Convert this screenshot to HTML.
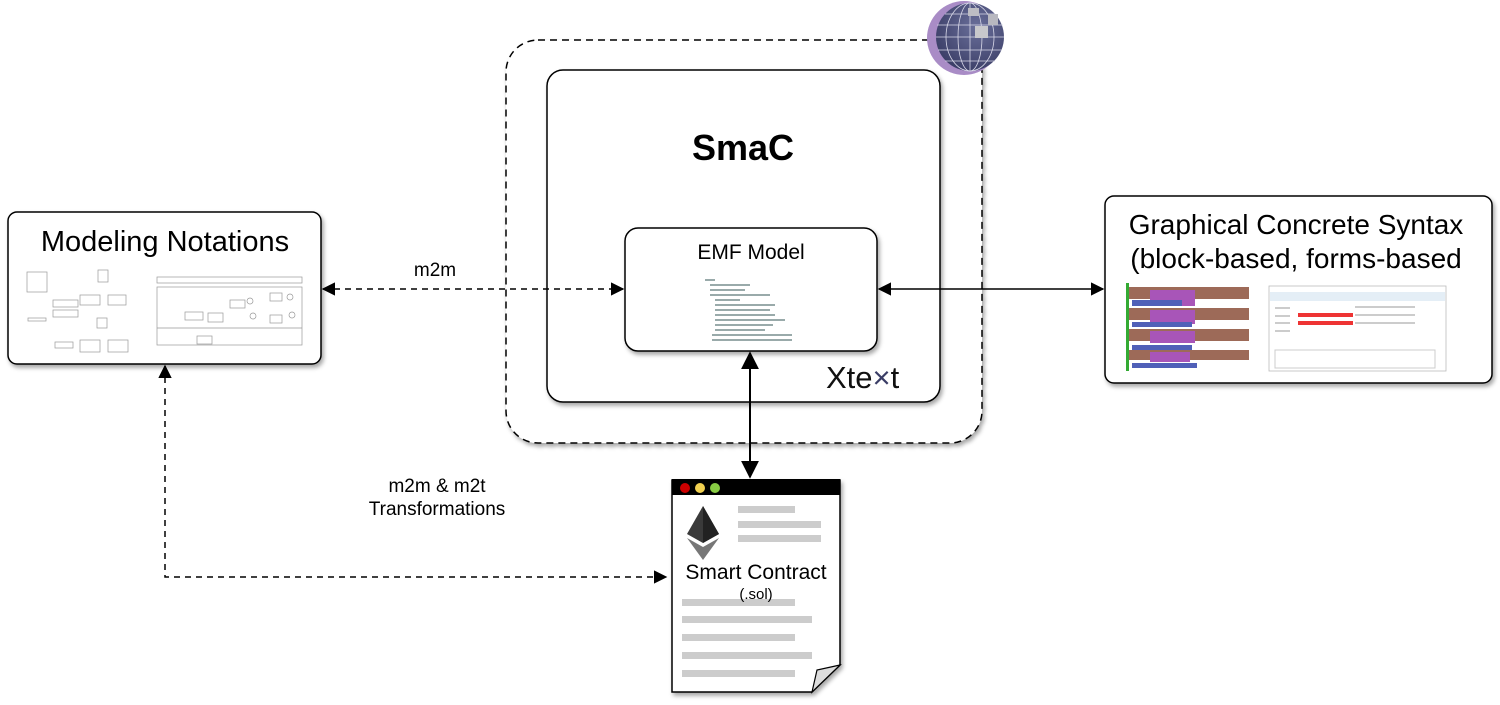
<!DOCTYPE html>
<html><head><meta charset="utf-8"><style>
html,body{margin:0;padding:0;background:#fff;}
svg{display:block;font-family:"Liberation Sans",sans-serif;}
</style></head><body>
<svg width="1500" height="705" viewBox="0 0 1500 705" xmlns="http://www.w3.org/2000/svg">
<defs>
<filter id="sh" x="-5%" y="-5%" width="115%" height="115%"><feDropShadow dx="2" dy="3" stdDeviation="2" flood-color="#000" flood-opacity="0.35"/></filter>
<marker id="ah" viewBox="0 0 10 10" refX="9" refY="5" markerWidth="9" markerHeight="9" orient="auto-start-reverse"><path d="M0,0 L10,5 L0,10 z" fill="#000"/></marker>
<radialGradient id="gl" cx="0.6" cy="0.35" r="0.7"><stop offset="0" stop-color="#6a6f9a"/><stop offset="1" stop-color="#3a3d66"/></radialGradient>
</defs>

<rect x="506" y="40" width="476" height="403" rx="32" fill="#fff" stroke="#000" stroke-width="1.5" stroke-dasharray="7,5" filter="url(#sh)"/>
<circle cx="964" cy="38" r="37" fill="#a98cc6"/>
<circle cx="970" cy="37" r="34" fill="url(#gl)"/>
<g stroke="#d8d8e8" stroke-width="0.8" fill="none">
<ellipse cx="970" cy="37" rx="12" ry="34"/><ellipse cx="970" cy="37" rx="24" ry="34"/><line x1="970" y1="3" x2="970" y2="71"/>
<line x1="937" y1="25" x2="1003" y2="25"/><line x1="936" y1="37" x2="1004" y2="37"/><line x1="938" y1="50" x2="1002" y2="50"/><line x1="945" y1="14" x2="995" y2="14"/><line x1="945" y1="61" x2="995" y2="61"/>
</g>
<rect x="975" y="26" width="13" height="12" fill="#c8c8cc"/><rect x="968" y="8" width="11" height="8" fill="#bdbdc4"/><rect x="988" y="14" width="10" height="11" fill="#b8b8c0"/>

<rect x="547" y="70" width="393" height="332" rx="16" fill="#fff" stroke="#000" stroke-width="1.5" filter="url(#sh)"/>
<text x="743" y="160" font-size="36" font-weight="bold" text-anchor="middle">SmaC</text>
<text x="826" y="388" font-size="31" fill="#111">Xte<tspan fill="#3a3d66">×</tspan>t</text>

<rect x="625" y="228" width="252" height="123" rx="13" fill="#fff" stroke="#000" stroke-width="1.5" filter="url(#sh)"/>
<text x="751" y="259" font-size="21" text-anchor="middle">EMF Model</text>
<g fill="#9aa">
<rect x="705" y="279" width="10" height="2"/><rect x="710" y="284" width="40" height="2"/><rect x="710" y="289" width="35" height="2"/><rect x="710" y="294" width="60" height="2"/><rect x="715" y="299" width="25" height="2"/>
<rect x="715" y="304" width="60" height="2"/><rect x="715" y="309" width="55" height="2"/><rect x="715" y="314" width="60" height="2"/><rect x="715" y="319" width="70" height="2"/><rect x="715" y="324" width="58" height="2"/><rect x="715" y="329" width="50" height="2"/><rect x="712" y="334" width="80" height="2"/><rect x="712" y="339" width="80" height="2"/>
</g>

<rect x="8" y="212" width="313" height="152" rx="9" fill="#fff" stroke="#000" stroke-width="1.5" filter="url(#sh)"/>
<text x="165" y="251" font-size="29" text-anchor="middle">Modeling Notations</text>
<g stroke="#999" fill="#fff" stroke-width="0.7">
<rect x="27" y="272" width="20" height="20"/><rect x="98" y="270" width="10" height="12"/><rect x="80" y="295" width="20" height="10"/><rect x="108" y="295" width="18" height="10"/><rect x="53" y="300" width="25" height="7"/><rect x="53" y="310" width="25" height="7"/><rect x="28" y="318" width="18" height="3"/><rect x="97" y="318" width="10" height="10"/><rect x="80" y="340" width="20" height="12"/><rect x="108" y="340" width="20" height="12"/><rect x="55" y="342" width="18" height="6"/>
<rect x="157" y="277" width="145" height="6"/><rect x="157" y="287" width="145" height="58"/><line x1="157" y1="328" x2="302" y2="328"/>
<rect x="185" y="312" width="18" height="8"/><rect x="208" y="313" width="15" height="9"/><rect x="230" y="300" width="15" height="8"/><rect x="270" y="293" width="12" height="8"/><rect x="270" y="315" width="12" height="8"/><rect x="197" y="336" width="15" height="8"/>
<circle cx="250" cy="301" r="3"/><circle cx="290" cy="297" r="3"/><circle cx="292" cy="315" r="3"/><circle cx="253" cy="316" r="3"/>
</g>

<rect x="1105" y="196" width="387" height="187" rx="9" fill="#fff" stroke="#000" stroke-width="1.5" filter="url(#sh)"/>
<text x="1296" y="234" font-size="28" text-anchor="middle">Graphical Concrete Syntax</text>
<text x="1296" y="268" font-size="28" text-anchor="middle">(block-based, forms-based</text>
<rect x="1126" y="283" width="3" height="88" fill="#3a3"/>
<g>
<rect x="1129" y="287" width="120" height="12" fill="#9d6a58"/><rect x="1150" y="290" width="45" height="16" fill="#a855b8"/><rect x="1132" y="300" width="50" height="6" fill="#5060b8"/>
<rect x="1129" y="308" width="120" height="12" fill="#9d6a58"/><rect x="1150" y="310" width="45" height="14" fill="#a855b8"/><rect x="1132" y="322" width="60" height="5" fill="#5060b8"/>
<rect x="1129" y="329" width="120" height="12" fill="#9d6a58"/><rect x="1150" y="331" width="45" height="12" fill="#a855b8"/><rect x="1132" y="345" width="60" height="5" fill="#5060b8"/>
<rect x="1129" y="350" width="120" height="10" fill="#9d6a58"/><rect x="1150" y="352" width="40" height="10" fill="#a855b8"/><rect x="1132" y="363" width="65" height="5" fill="#5060b8"/>
</g>
<rect x="1269" y="286" width="177" height="85" fill="#fff" stroke="#bbb" stroke-width="0.8"/>
<rect x="1270" y="292" width="175" height="9" fill="#e4eef6"/>
<rect x="1298" y="313" width="55" height="4" fill="#e33"/><rect x="1298" y="321" width="55" height="4" fill="#e33"/>
<g fill="#ccc"><rect x="1275" y="307" width="15" height="2"/><rect x="1275" y="315" width="15" height="2"/><rect x="1275" y="322" width="15" height="2"/><rect x="1275" y="330" width="15" height="2"/><rect x="1355" y="306" width="60" height="2"/><rect x="1355" y="314" width="60" height="2"/><rect x="1355" y="322" width="60" height="2"/><rect x="1275" y="350" width="160" height="18" fill="none" stroke="#ccc"/></g>

<line x1="323" y1="289" x2="623" y2="289" stroke="#000" stroke-width="1.5" stroke-dasharray="6,5" marker-start="url(#ah)" marker-end="url(#ah)"/>
<text x="435" y="276" font-size="19" text-anchor="middle">m2m</text>
<line x1="879" y1="289" x2="1103" y2="289" stroke="#000" stroke-width="1.5" marker-start="url(#ah)" marker-end="url(#ah)"/>
<line x1="750" y1="353" x2="750" y2="477" stroke="#000" stroke-width="2" marker-start="url(#ah)" marker-end="url(#ah)"/>
<polyline points="165,366 165,577 666,577" fill="none" stroke="#000" stroke-width="1.5" stroke-dasharray="6,5" marker-start="url(#ah)" marker-end="url(#ah)"/>
<text x="437" y="492" font-size="19" text-anchor="middle">m2m &amp; m2t</text>
<text x="437" y="515" font-size="19" text-anchor="middle">Transformations</text>

<path d="M672,480 L840,480 L840,665 L812,692 L672,692 Z" fill="#fff" stroke="#000" stroke-width="1.5" filter="url(#sh)"/>
<path d="M840,665 L817,670 L812,692 Z" fill="#ddd" stroke="#000" stroke-width="1.2"/>
<rect x="672" y="479" width="168" height="16" fill="#000"/>
<circle cx="685" cy="488" r="5" fill="#c00"/><circle cx="700" cy="488" r="5" fill="#f0d050"/><circle cx="715" cy="488" r="5" fill="#8c4"/>
<polygon points="703,506 719,534 703,543 687,534" fill="#3a3a3a"/>
<polygon points="703,506 703,543 719,534" fill="#222"/>
<polygon points="687,538 703,547 719,538 703,560" fill="#777"/>
<g fill="#ccc"><rect x="738" y="506" width="57" height="7"/><rect x="738" y="521" width="83" height="7"/><rect x="738" y="535" width="83" height="7"/>
<rect x="682" y="599" width="113" height="7"/><rect x="682" y="616" width="130" height="7"/><rect x="682" y="634" width="113" height="7"/><rect x="682" y="652" width="130" height="7"/><rect x="682" y="670" width="113" height="7"/></g>
<text x="756" y="579" font-size="21" text-anchor="middle">Smart Contract</text>
<text x="756" y="599" font-size="15" text-anchor="middle">(.sol)</text>
</svg>
</body></html>
